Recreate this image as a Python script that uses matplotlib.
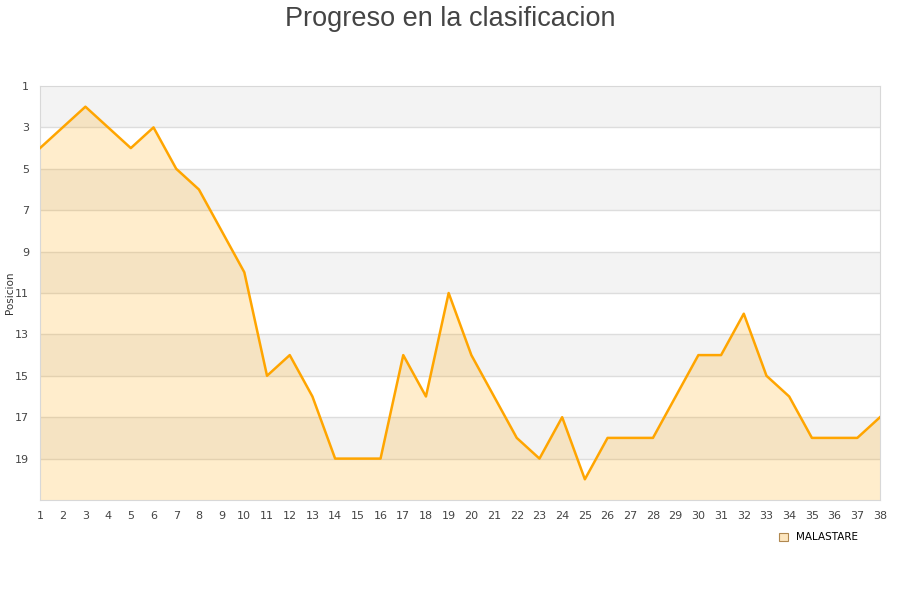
import matplotlib

matplotlib.use('Agg')
import matplotlib.pyplot as plt

TEAM = 'MALASTARE'
ROUNDS = list(range(1, 39))
POSITIONS = [4, 3, 2, 3, 4, 3, 5, 6, 8, 10,
             15, 14, 16, 19, 19, 19, 14, 16, 11, 14,
             16, 18, 19, 17, 20, 18, 18, 18, 16, 14,
             14, 12, 15, 16, 18, 18, 18, 17]
Y_TICKS = [1, 3, 5, 7, 9, 11, 13, 15, 17, 19]
Y_MIN, Y_MAX = 1, 21

fig = plt.figure(figsize=(9, 6), dpi=100)
ax = fig.add_axes([40 / 900, 100 / 600, 840 / 900, 414 / 600])

# alternating bands
for y0 in range(Y_MIN, Y_MAX, 4):
    ax.axhspan(y0, y0 + 2, color='#f3f3f3', zorder=0, lw=0)
for y in Y_TICKS[1:]:
    ax.axhline(y, color='#dddddd', lw=1, zorder=1)

ax.fill_between(ROUNDS, POSITIONS, Y_MAX, color='#ffa500', alpha=0.2, lw=0, zorder=2)
ax.plot(ROUNDS, POSITIONS, color='#ffa500', lw=1.8, zorder=3)

ax.set_xlim(1, 38)
ax.set_ylim(Y_MAX, Y_MIN)
ax.set_xticks(ROUNDS)
ax.set_yticks(Y_TICKS)
ax.tick_params(length=0, labelsize=8, colors='#444444', pad=8)
for side in ax.spines.values():
    side.set_color('#d8d8d8')
ax.set_ylabel('Posicion', fontsize=7.5, color='#333333')
ax.yaxis.set_label_coords(-25 / 840, 0.5)

fig.suptitle('Progreso en la clasificacion', y=0.99, fontsize=19.5,
             family='Liberation Sans', color='#444444')

ax.legend(handles=[plt.Rectangle((0, 0), 1, 1, facecolor='#fde6bf',
                                 edgecolor='#b08850', lw=0.8)],
          labels=[TEAM], loc='upper right', bbox_to_anchor=(0.985, -0.055),
          frameon=False, fontsize=7.5, handlelength=0.8, handleheight=0.8)

fig.savefig('out.png', dpi=100)
